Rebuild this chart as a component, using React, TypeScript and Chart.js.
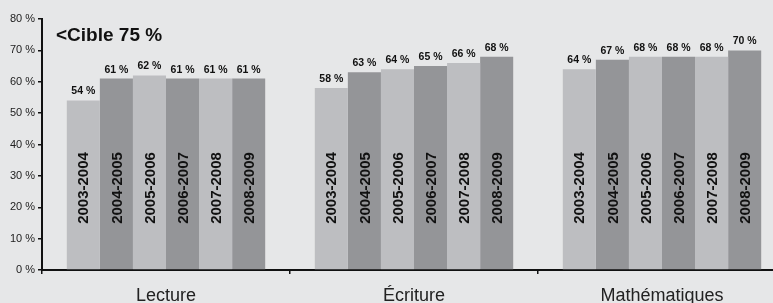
import React, { useEffect, useRef } from "react";
import { Chart, registerables } from "chart.js";

Chart.register(...registerables);

const categories = ["Lecture", "Écriture", "Mathématiques"];
const years = ["2003-2004", "2004-2005", "2005-2006", "2006-2007", "2007-2008", "2008-2009"];
const values2003 = [54, 58, 64];
const values2004 = [61, 63, 67];
const values2005 = [62, 64, 68];
const values2006 = [61, 65, 68];
const values2007 = [61, 66, 68];
const values2008 = [61, 68, 70];
const seriesValues = [values2003, values2004, values2005, values2006, values2007, values2008];
const yTicks = [0, 10, 20, 30, 40, 50, 60, 70, 80];
const targetLabel = "<Cible 75 %";

const LIGHT = "#bdbec1";
const DARK = "#949598";
const BG = "#e6e7e8";
const FONT = "'Liberation Sans', Arial, Helvetica, sans-serif";

const labelPlugin = {
  id: "barLabels",
  afterDatasetsDraw(chart: any) {
    const ctx = chart.ctx;
    const area = chart.chartArea;
    ctx.save();
    chart.data.datasets.forEach((ds: any, di: number) => {
      const meta = chart.getDatasetMeta(di);
      meta.data.forEach((bar: any, i: number) => {
        const v = ds.data[i];
        ctx.fillStyle = "#111";
        ctx.font = `bold 10.5px ${FONT}`;
        ctx.textAlign = "center";
        ctx.textBaseline = "middle";
        ctx.fillText(`${v} %`, bar.x, bar.y - 9);
        ctx.save();
        ctx.translate(bar.x, area.bottom - 82);
        ctx.rotate(-Math.PI / 2);
        ctx.font = `bold 15px ${FONT}`;
        ctx.fillText(ds.label, 0, 1);
        ctx.restore();
      });
    });
    ctx.font = `bold 19px ${FONT}`;
    ctx.textAlign = "left";
    ctx.textBaseline = "middle";
    ctx.fillStyle = "#111";
    ctx.fillText(targetLabel, 56, 36);
    ctx.restore();
  },
};

export default function App() {
  const ref = useRef<HTMLCanvasElement>(null);
  useEffect(() => {
    if (!ref.current) return;
    const chart = new Chart(ref.current, {
      type: "bar",
      data: {
        labels: categories,
        datasets: years.map((y, i) => ({
          label: y,
          data: seriesValues[i],
          backgroundColor: i % 2 === 0 ? LIGHT : DARK,
          borderWidth: 0,
          barPercentage: 1,
          categoryPercentage: 0.8,
        })),
      },
      options: {
        animation: false,
        responsive: false,
        maintainAspectRatio: false,
        layout: { padding: { top: 19, left: 0, right: 0, bottom: 0 } },
        plugins: { legend: { display: false }, tooltip: { enabled: false } },
        scales: {
          x: {
            grid: {
              offset: true,
              drawOnChartArea: false,
              drawTicks: true,
              tickLength: 4,
              color: "#111",
              lineWidth: 1.5,
            },
            border: { display: true, color: "#111", width: 2 },
            ticks: {
              color: "#222",
              font: { family: FONT, size: 18 },
              padding: 11,
            },
            afterFit(scale: any) {
              scale.height = 33;
            },
          },
          y: {
            min: 0,
            max: 80,
            afterBuildTicks(scale: any) {
              scale.ticks = yTicks.map((v) => ({ value: v }));
            },
            grid: {
              drawOnChartArea: false,
              drawTicks: true,
              tickLength: 4,
              color: "#111",
              lineWidth: 1.5,
            },
            border: { display: true, color: "#111", width: 2 },
            ticks: {
              color: "#222",
              font: { family: FONT, size: 11 },
              padding: 3,
              callback: (v: any) => `${v} %`,
            },
            afterFit(scale: any) {
              scale.width = 42;
            },
          },
        },
      },
      plugins: [labelPlugin],
    });
    return () => chart.destroy();
  }, []);
  return (
    <div
      style={{
        position: "fixed",
        left: 0,
        top: 0,
        width: 773,
        height: 303,
        overflow: "hidden",
        background: BG,
      }}
    >
      <canvas ref={ref} width={786} height={303} style={{ display: "block", width: 786, height: 303 }} />
    </div>
  );
}
